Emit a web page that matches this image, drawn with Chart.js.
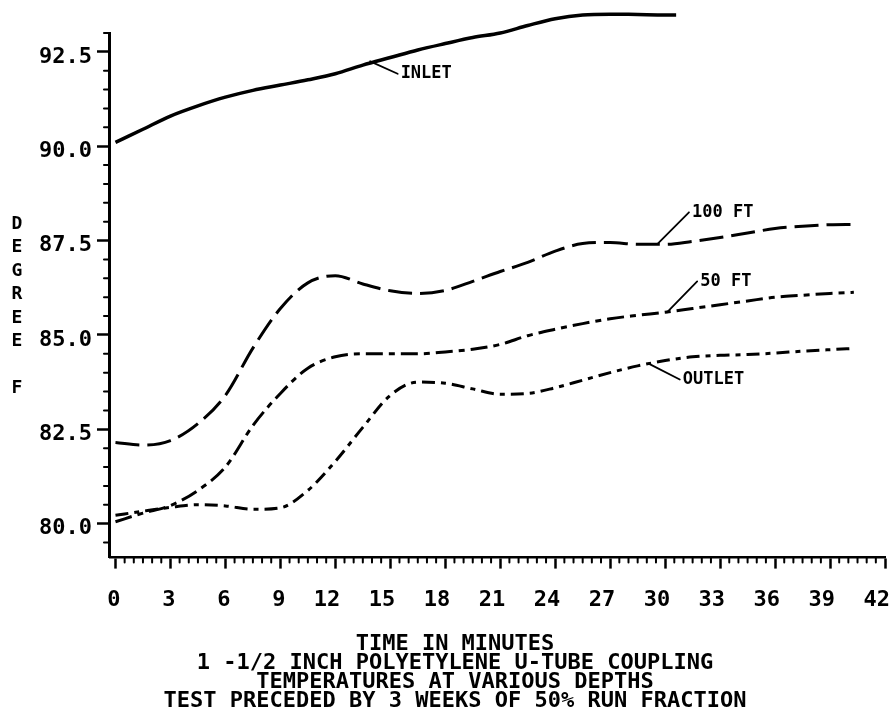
<!DOCTYPE html>
<html>
<head>
<meta charset="utf-8">
<script src="https://cdn.jsdelivr.net/npm/chart.js@4.4.1/dist/chart.umd.min.js"></script>
<style>
  html, body { margin: 0; padding: 0; background: #fff; }
  canvas { display: block; }
</style>
</head>
<body>
<canvas id="chart" width="893" height="721"></canvas>
<script>
// time axis (minutes) shared by the three buried probes
const minutes = [0, 1.5, 3, 4.5, 6, 7.5, 9, 10.5, 12, 13.5, 15, 16.5, 18, 19.5, 21, 22.5, 24, 25.5, 27, 28.5, 30, 31.5, 33, 34.5, 36, 37.5, 39, 40.3];
const ft100 = [82.15, 82.08, 82.2, 82.65, 83.4, 84.65, 85.7, 86.38, 86.57, 86.35, 86.17, 86.1, 86.18, 86.42, 86.68, 86.92, 87.22, 87.42, 87.45, 87.4, 87.4, 87.48, 87.58, 87.7, 87.82, 87.88, 87.92, 87.93];
const ft50 = [80.05, 80.28, 80.48, 80.88, 81.5, 82.6, 83.45, 84.12, 84.42, 84.5, 84.5, 84.5, 84.55, 84.62, 84.75, 84.98, 85.15, 85.3, 85.43, 85.52, 85.6, 85.7, 85.8, 85.9, 86.0, 86.05, 86.1, 86.13];
const outlet = [80.22, 80.33, 80.43, 80.5, 80.47, 80.38, 80.42, 80.88, 81.65, 82.55, 83.4, 83.75, 83.72, 83.57, 83.43, 83.45, 83.6, 83.8, 84.0, 84.18, 84.32, 84.42, 84.46, 84.48, 84.52, 84.57, 84.61, 84.64];

// inlet was only logged for the first half hour
const inletMinutes = [0, 1.5, 3, 4.5, 6, 7.5, 9, 10.5, 12, 13.5, 15, 16.5, 18, 19.5, 21, 22.5, 24, 25.5, 27, 28.5, 30, 30.6];
const inlet = [90.1, 90.45, 90.8, 91.07, 91.3, 91.48, 91.62, 91.76, 91.92, 92.15, 92.35, 92.55, 92.72, 92.88, 93.0, 93.2, 93.38, 93.48, 93.5, 93.49, 93.48, 93.48];

// labels with leader lines: from a point on the curve to where the text starts
const callouts = [
  { text: 'INLET', from: [13.9, 92.25], to: [15.4, 91.92] },
  { text: '100 FT', from: [29.6, 87.42], to: [31.3, 88.25] },
  { text: '50 FT', from: [30.1, 85.6], to: [31.75, 86.42] },
  { text: 'OUTLET', from: [29.1, 84.24], to: [30.8, 83.82] },
];

const yTitle = 'DEGREE F';
const xTitle = [
  'TIME IN MINUTES',
  '1 -1/2 INCH POLYETYLENE U-TUBE COUPLING',
  'TEMPERATURES AT VARIOUS DEPTHS',
  'TEST PRECEDED BY 3 WEEKS OF 50% RUN FRACTION',
];

const xRange = [-0.3, 42], yRange = [79.1, 93.0];
const xMajor = 3, yMajor = 2.5, minorStep = 0.5;

const ink = '#000';
const mono = "'DejaVu Sans Mono', monospace";
const pts = (xs, ys) => ys.map((v, i) => ({ x: xs[i], y: v }));
const isMultiple = (v, step) => Math.abs(v / step - Math.round(v / step)) < 1e-6;

// minor ticks, axis titles and the curve callouts
const plotterMarks = {
  id: 'plotterMarks',
  afterDraw(chart) {
    const { ctx, chartArea: area, scales: { x, y } } = chart;
    ctx.save();
    ctx.strokeStyle = ink;
    ctx.fillStyle = ink;
    ctx.lineWidth = 2;
    ctx.lineCap = 'round';

    ctx.beginPath();
    for (let i = Math.ceil(x.min / minorStep); i * minorStep <= x.max + 1e-9; i++) {
      const v = i * minorStep;
      if (isMultiple(v, xMajor)) continue;
      const px = x.getPixelForValue(v);
      ctx.moveTo(px, area.bottom);
      ctx.lineTo(px, area.bottom + 5);
    }
    for (let i = Math.ceil(y.min / minorStep); i * minorStep <= y.max + 1e-9; i++) {
      const v = i * minorStep;
      if (isMultiple(v, yMajor)) continue;
      const py = y.getPixelForValue(v);
      ctx.moveTo(area.left - 6, py);
      ctx.lineTo(area.left, py);
    }
    ctx.stroke();

    // vertical axis title, one letter per row
    ctx.font = `bold 18px ${mono}`;
    ctx.textAlign = 'center';
    ctx.textBaseline = 'middle';
    [...yTitle].forEach((ch, i) => ctx.fillText(ch, 17, 224 + i * 23.5));

    // caption block under the time axis
    ctx.font = `bold 22px ${mono}`;
    xTitle.forEach((s, i) => ctx.fillText(s, 455, 644 + i * 19));

    ctx.font = `bold 17px ${mono}`;
    ctx.textAlign = 'left';
    ctx.lineWidth = 1.8;
    callouts.forEach(c => {
      const x0 = x.getPixelForValue(c.from[0]), y0 = y.getPixelForValue(c.from[1]);
      const x1 = x.getPixelForValue(c.to[0]), y1 = y.getPixelForValue(c.to[1]);
      ctx.beginPath();
      ctx.moveTo(x0, y0);
      ctx.lineTo(x1, y1);
      ctx.stroke();
      ctx.fillText(c.text, x1 + 3, y1);
    });
    ctx.restore();
  },
};

const line = (data, dash, width) => ({
  data,
  borderColor: ink,
  borderWidth: width,
  borderDash: dash,
  borderCapStyle: 'butt',
  borderJoinStyle: 'round',
  pointRadius: 0,
  cubicInterpolationMode: 'monotone',
  clip: false,
  fill: false,
});

new Chart(document.getElementById('chart'), {
  type: 'line',
  data: {
    datasets: [
      { label: 'INLET', ...line(pts(inletMinutes, inlet), [], 3.5) },
      { label: '100 FT', ...line(pts(minutes, ft100), [24, 8], 3) },
      { label: '50 FT', ...line(pts(minutes, ft50), [17, 6, 6, 6], 3) },
      { label: 'OUTLET', ...line(pts(minutes, outlet), [13, 6, 5, 6], 3) },
    ],
  },
  options: {
    responsive: false,
    animation: false,
    devicePixelRatio: 1,
    layout: { padding: { left: 34, top: 33, right: 8, bottom: 89 } },
    plugins: { legend: { display: false }, tooltip: { enabled: false } },
    scales: {
      x: {
        type: 'linear',
        min: xRange[0],
        max: xRange[1],
        border: { color: ink, width: 2.5 },
        grid: { drawOnChartArea: false, tickLength: 11, tickWidth: 2.5, tickColor: ink },
        ticks: {
          stepSize: xMajor,
          includeBounds: false,
          autoSkip: false,
          maxRotation: 0,
          align: 'end',
          labelOffset: 5,
          padding: 2,
          color: ink,
          font: { family: mono, size: 22, weight: 'bold', lineHeight: 2.7 },
          callback: v => String(v),
        },
      },
      y: {
        type: 'linear',
        min: yRange[0],
        max: yRange[1],
        border: { color: ink, width: 3 },
        grid: { drawOnChartArea: false, tickLength: 13, tickWidth: 2.5, tickColor: ink },
        ticks: {
          stepSize: yMajor,
          includeBounds: false,
          autoSkip: false,
          labelOffset: 5,
          padding: 5,
          color: ink,
          font: { family: mono, size: 22, weight: 'bold' },
          callback: v => v.toFixed(1),
        },
      },
    },
  },
  plugins: [plotterMarks],
});
</script>
</body>
</html>
